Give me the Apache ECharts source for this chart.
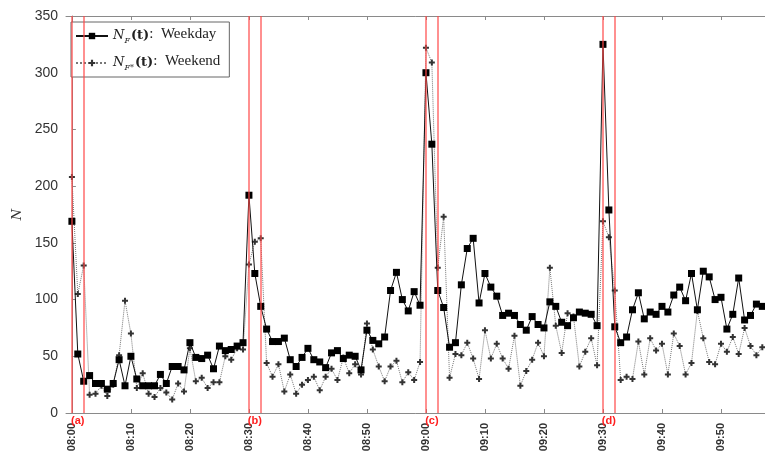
<!DOCTYPE html>
<html>
<head>
<meta charset="utf-8">
<script src="https://cdn.jsdelivr.net/npm/echarts@6/dist/echarts.min.js"></script>
<style>html,body{margin:0;padding:0;background:#fff;}#c{width:765px;height:462px;}</style>
</head>
<body>
<div id="c"></div>
<script>
// minutes after 08:00 = array index
const weekday = [169,52,28,33,26,26,21,26,47,24,
  50,30,24,24,24,34,26,41,41,38,
  62,49,48,51,39,59,55,56,59,62,
  192,123,94,74,63,63,66,47,41,49,
  57,47,45,40,53,55,48,51,50,38,
  73,64,61,67,108,124,100,90,107,95,
  300,237,108,93,58,62,113,145,154,97,
  123,111,103,86,88,86,78,73,85,78,
  75,98,94,80,77,84,89,88,87,77,
  325,179,76,62,67,91,106,83,89,87,
  94,89,104,111,99,123,91,125,120,100,
  102,74,87,119,82,86,96,94];
const weekend = [208,105,130,16,17,24,15,25,51,99,
  70,22,35,17,14,22,18,12,26,19,
  57,28,31,22,27,27,50,47,57,56,
  131,151,154,44,32,43,19,34,17,25,
  29,32,20,32,39,29,49,35,43,34,
  79,56,41,28,41,46,27,36,29,45,
  322,309,128,173,31,52,51,62,48,30,
  73,48,61,48,39,68,24,37,47,62,
  50,128,77,53,88,85,41,54,66,42,
  169,155,108,29,32,30,63,34,66,55,
  61,34,70,59,34,44,90,66,45,43,
  61,54,67,52,75,59,51,58];
const tickMinutes = [0,10,20,30,40,50,60,70,80,90,100,110];
const tickLabels = ['08:00','08:10','08:20','08:30','08:40','08:50','09:00','09:10','09:20','09:30','09:40','09:50'];
const eventStarts = [0,30,60,90];
const eventEnds = [2,32,62,92];
const eventLabels = ['(a)','(b)','(c)','(d)'];

const chart = echarts.init(document.getElementById('c'), null, {renderer:'canvas'});
const axisGray = '#8a8a8a';
const plusPath = 'path://M2,0H4V2H6V4H4V6H2V4H0V2H2Z';
const redLines = [];
eventStarts.forEach((s,i)=>{ redLines.push({xAxis:s}); redLines.push({xAxis:eventEnds[i]}); });
const areas = eventStarts.map((s,i)=>[{xAxis:s, name:eventLabels[i]},{xAxis:eventEnds[i]}]);

const base = {verticalAlign:'bottom', padding:[0,0,3,0], color:'#222'};
chart.setOption({
  animation:false,
  backgroundColor:'#fff',
  grid:{left:66, top:16, height:397, width:714, outerBoundsMode:'none', containLabel:false},
  legend:{
    left:71, top:22, orient:'vertical',
    backgroundColor:'#fff', borderColor:'#666', borderWidth:1, borderRadius:0,
    padding:[5,9,5,4], itemGap:9, itemWidth:32, itemHeight:8,
    data:['wd','we'],
    formatter:function(name){
      if(name==='wd') return '{n|N}{s|F}{t|(t)}{r|:  Weekday}';
      return '{n|N}{s|F*}{t|(t)}{r|:  Weekend}';
    },
    textStyle:{
      color:'#222', fontFamily:'DejaVu Serif', fontSize:13, lineHeight:18,
      rich:{
        n:Object.assign({fontFamily:'DejaVu Serif', fontStyle:'italic', fontSize:13}, base),
        s:{fontFamily:'DejaVu Serif', fontStyle:'italic', fontSize:8, color:'#222', verticalAlign:'bottom', padding:[0,1,0,0]},
        t:Object.assign({fontFamily:'DejaVu Serif', fontWeight:'bold', fontSize:13}, base),
        r:Object.assign({fontFamily:'Liberation Serif', fontSize:15}, base)
      }
    }
  },
  xAxis:[{
    type:'value', min:-1, max:120, position:'bottom',
    axisLine:{show:true, onZero:false, lineStyle:{color:axisGray, width:1}},
    axisTick:{show:true, inside:true, length:4, customValues:tickMinutes, lineStyle:{color:axisGray}},
    axisLabel:{show:true, customValues:tickMinutes, rotate:90, margin:10,
      fontFamily:'Liberation Sans', fontSize:11, fontWeight:'bold', color:'#333',
      formatter:function(v){ const i = tickMinutes.indexOf(v); return i>=0 ? tickLabels[i] : ''; }},
    splitLine:{show:false}
  },{
    type:'value', min:-1, max:120, position:'top',
    axisLine:{show:true, onZero:false, lineStyle:{color:axisGray, width:1}},
    axisTick:{show:true, inside:true, length:4, customValues:tickMinutes, lineStyle:{color:axisGray}},
    axisLabel:{show:false},
    splitLine:{show:false}
  }],
  yAxis:{
    type:'value', min:0, max:350, interval:50,
    name:'N', nameLocation:'middle', nameRotate:90, nameGap:30,
    nameTextStyle:{fontFamily:'DejaVu Serif', fontStyle:'italic', fontSize:13, color:'#333'},
    axisLine:{show:true, lineStyle:{color:axisGray, width:1}},
    axisTick:{show:true, inside:true, length:4, lineStyle:{color:axisGray}},
    axisLabel:{fontFamily:'Liberation Sans', fontSize:14, color:'#333', margin:8},
    splitLine:{show:false}
  },
  series:[{
    name:'we', type:'line', z:3,
    data: weekend.map((v,i)=>[i,v]),
    symbol:plusPath, symbolSize:6, showAllSymbol:true,
    itemStyle:{color:'#333'},
    lineStyle:{color:'#777', width:1, type:'dotted'},
    markLine:{silent:true, symbol:'none', label:{show:false},
      lineStyle:{color:'rgba(255,70,70,0.8)', width:1.5, type:'solid'},
      data: redLines},
    markArea:{silent:true, itemStyle:{color:'rgba(0,0,0,0)'},
      label:{show:true, position:'bottom', distance:2, color:'#ff2020', fontWeight:'bold', fontSize:11, fontFamily:'Liberation Sans'},
      data: areas}
  },{
    name:'wd', type:'line', z:4,
    data: weekday.map((v,i)=>[i,v]),
    symbol:'rect', symbolSize:7, showAllSymbol:true,
    itemStyle:{color:'#000'},
    lineStyle:{color:'#111', width:1}
  }]
});
</script>
</body>
</html>
